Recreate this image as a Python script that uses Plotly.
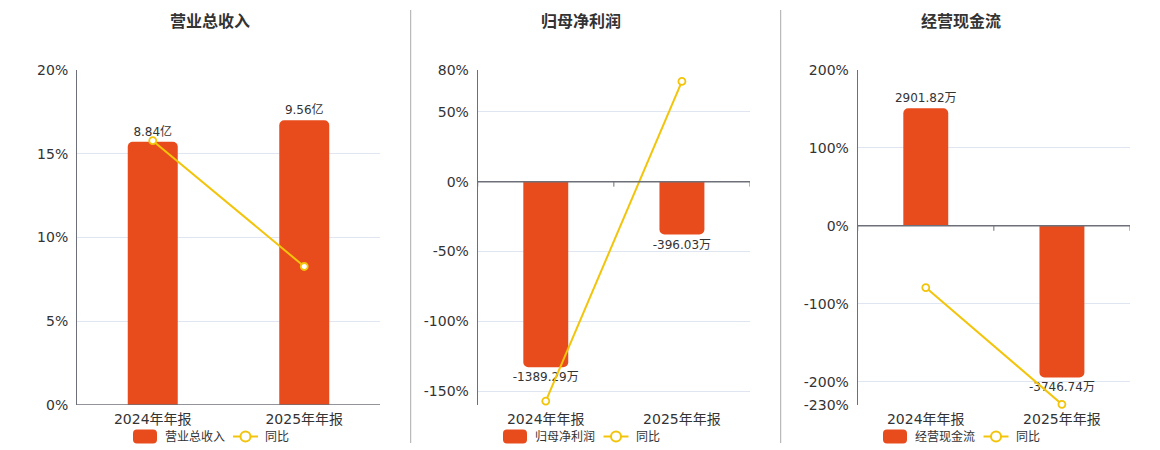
import plotly.graph_objects as go

# ---------------- data ----------------
categories = ["2024年年报", "2025年年报"]

titles = ["营业总收入", "归母净利润", "经营现金流"]

revenue = [8.84, 9.56]            # 亿
revenue_unit = "亿"
revenue_yoy = [15.78, 8.27]       # %

profit = [-1389.29, -396.03]      # 万
profit_unit = "万"
profit_yoy = [-157.2, 71.8]       # %

cashflow = [2901.82, -3746.74]    # 万
cashflow_unit = "万"
cashflow_yoy = [-79.3, -229.1]    # %

pct_ticks_1 = [0, 5, 10, 15, 20]
pct_ticks_2 = [-160, -150, -100, -50, 0, 50, 80]
pct_ticks_3 = [-230, -200, -100, 0, 100, 200]

# ---------------- style ----------------
W, H = 1160, 450
BAR = "#e84c1d"
LINE = "#f2c40a"
AXIS = "#6e7079"
GRID = "#e0e6f1"
TXT = "#333333"
FONT = "DejaVu Sans, Noto Sans CJK SC, sans-serif"

# screen placement of the figure in the page (body margin)
OX, OY = 8.0, 8.0

def px(x):
    return (x - OX) / W

def py(y):
    return 1 - (y - OY) / H

panels = [
    dict(values=revenue, unit=revenue_unit, yoy=revenue_yoy, ticks=pct_ticks_1,
         prange=[0, 20], brange=[0, 11.25], dom=[77, 380], title_x=210,
         leg=[133, 163, 233, 263]),
    dict(values=profit, unit=profit_unit, yoy=profit_yoy, ticks=pct_ticks_2,
         prange=[-160, 80], brange=[-1672, 836], dom=[477.7, 750], title_x=581,
         leg=[503, 533, 603.5, 633.5]),
    dict(values=cashflow, unit=cashflow_unit, yoy=cashflow_yoy, ticks=pct_ticks_3,
         prange=[-230, 200], brange=[-4427.5, 3850], dom=[857.7, 1130], title_x=960.5,
         leg=[883, 913, 983.5, 1013.5]),
]

fig = go.Figure()
layout = dict(
    width=W, height=H,
    margin=dict(l=0, r=0, t=0, b=0, autoexpand=False),
    paper_bgcolor="white", plot_bgcolor="white",
    showlegend=False,
    barcornerradius=5,
    font=dict(family=FONT, color=TXT, size=14),
)
shapes = []
annotations = []

ytop, ybot = 70, 405

for i, p in enumerate(panels):
    n = i + 1
    xa = "x" if n == 1 else f"x{n}"
    yb_idx = 2 * i + 1
    yp_idx = 2 * i + 2
    yb = "y" if yb_idx == 1 else f"y{yb_idx}"
    yp = f"y{yp_idx}"

    labels = [f"{v:.2f}{p['unit']}" for v in p["values"]]

    fig.add_trace(go.Bar(
        x=categories, y=p["values"], xaxis=xa, yaxis=yb,
        marker=dict(color=BAR, line=dict(width=0)),
        width=0.33,
        text=labels, textposition="outside", constraintext="none",
        textfont=dict(size=12, color=TXT, family=FONT),
        cliponaxis=False, hoverinfo="skip",
    ))
    fig.add_trace(go.Scatter(
        x=categories, y=p["yoy"], xaxis=xa, yaxis=yp,
        mode="lines+markers",
        line=dict(color=LINE, width=2),
        marker=dict(symbol="circle", size=7, color="white",
                    line=dict(color=LINE, width=1.8)),
        cliponaxis=False, hoverinfo="skip",
    ))

    xkey = "xaxis" if n == 1 else f"xaxis{n}"
    ybkey = "yaxis" if yb_idx == 1 else f"yaxis{yb_idx}"
    ypkey = f"yaxis{yp_idx}"

    layout[xkey] = dict(
        domain=[px(p["dom"][0]), px(p["dom"][1])],
        anchor=yb, type="category", range=[-0.5, 1.5],
        showgrid=False, showline=False, zeroline=False, ticks="",
        tickfont=dict(size=14, color=TXT, family=FONT),
        ticklabelstandoff=4, fixedrange=True, automargin=False,
    )
    layout[ybkey] = dict(
        domain=[py(ybot), py(ytop)], anchor=xa,
        range=p["brange"], visible=False, showgrid=False, zeroline=False,
        fixedrange=True, automargin=False,
    )
    ticktext = ["" if (i == 1 and t == -160) else f"{t}%" for t in p["ticks"]]
    layout[ypkey] = dict(
        overlaying=yb, side="left", anchor=xa,
        range=p["prange"], tickvals=p["ticks"], ticktext=ticktext,
        showgrid=True, gridcolor=GRID, gridwidth=1,
        zeroline=False, showline=True, linecolor=AXIS, linewidth=1,
        ticks="", tickfont=dict(size=14, color=TXT, family=FONT),
        ticklabelstandoff=5, fixedrange=True, automargin=False,
    )

    # x axis line at zero with boundary ticks
    shapes.append(dict(type="line", xref=f"{xa} domain", x0=0, x1=1,
                       yref=yp, y0=0, y1=0,
                       line=dict(color=AXIS, width=1.5), layer="above"))
    for bx in [-0.5, 0.5, 1.5]:
        shapes.append(dict(type="line", xref=xa, x0=bx, x1=bx,
                           yref=yp, ysizemode="pixel", yanchor=0, y0=0, y1=-5,
                           line=dict(color=AXIS, width=1), layer="above"))

    # title
    annotations.append(dict(text=f"<b>{titles[i]}</b>", xref="paper", yref="paper",
                            x=px(p["title_x"]), y=py(22), xanchor="center", yanchor="middle",
                            showarrow=False, font=dict(size=16, color=TXT, family=FONT)))

    # legend
    lb, lt, ll, lt2 = p["leg"]
    ly = 436.5
    rr = 4
    w_, h_ = 24, 14
    path_up = (f"M{rr},0 L{w_-rr},0 Q{w_},0 {w_},{rr} L{w_},{h_-rr} Q{w_},{h_} {w_-rr},{h_} "
               f"L{rr},{h_} Q0,{h_} 0,{h_-rr} L0,{rr} Q0,0 {rr},0 Z")
    shapes.append(dict(type="path", xref="paper", yref="paper",
                       xsizemode="pixel", ysizemode="pixel",
                       xanchor=px(lb), yanchor=py(ly + h_ / 2),
                       path=path_up, fillcolor=BAR, line=dict(width=0), layer="above"))
    annotations.append(dict(text=titles[i], xref="paper", yref="paper",
                            x=px(lt), y=py(ly), xanchor="left", yanchor="middle",
                            showarrow=False, font=dict(size=12, color=TXT, family=FONT)))
    shapes.append(dict(type="line", xref="paper", yref="paper",
                       x0=px(ll), x1=px(ll + 25), y0=py(ly), y1=py(ly),
                       line=dict(color=LINE, width=2), layer="above"))
    shapes.append(dict(type="circle", xref="paper", yref="paper",
                       xsizemode="pixel", ysizemode="pixel",
                       xanchor=px(ll + 12.5), yanchor=py(ly),
                       x0=-5, x1=5, y0=-5, y1=5,
                       fillcolor="white", line=dict(color=LINE, width=2), layer="above"))
    annotations.append(dict(text="同比", xref="paper", yref="paper",
                            x=px(lt2), y=py(ly), xanchor="left", yanchor="middle",
                            showarrow=False, font=dict(size=12, color=TXT, family=FONT)))

# separators
for sx in [410.7, 780.7]:
    shapes.append(dict(type="line", xref="paper", yref="paper",
                       x0=px(sx), x1=px(sx), y0=min(1.0, py(10)), y1=py(443),
                       line=dict(color="#aaaaaa", width=1)))

layout["shapes"] = shapes
layout["annotations"] = annotations
fig.update_layout(**layout)
fig.write_html("out.html")
